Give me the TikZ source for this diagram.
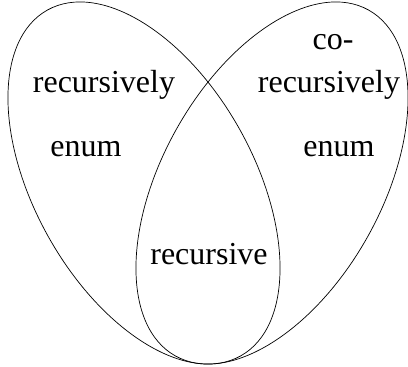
\documentclass[tikz,border=0pt]{standalone}
\usepackage{fontspec}
\setmainfont{Liberation Serif}
\begin{document}
\begin{tikzpicture}[x=1pt,y=1pt,
  setline/.style={draw=black,line width=0.7pt},
  lbl/.style={anchor=base,inner sep=0pt,font=\fontsize{32}{36}\selectfont}]
\useasboundingbox (0,0) rectangle (408,367);
\draw[setline,rotate around={29.2:(144,184)}] (144,184) ellipse [x radius=109.7, y radius=198.1];
\draw[setline,rotate around={-29.2:(272,184)}] (272,184) ellipse [x radius=109.7, y radius=198.1];
\node[lbl] (re) at (104,274) {recursively};
\node[lbl] (ren) at (86,210) {enum};
\node[lbl] (co) at (333,317) {co-};
\node[lbl] (core) at (329,274) {recursively};
\node[lbl] (coen) at (339,210) {enum};
\node[lbl] (rec) at (209,102) {recursive};
\end{tikzpicture}
\end{document}
